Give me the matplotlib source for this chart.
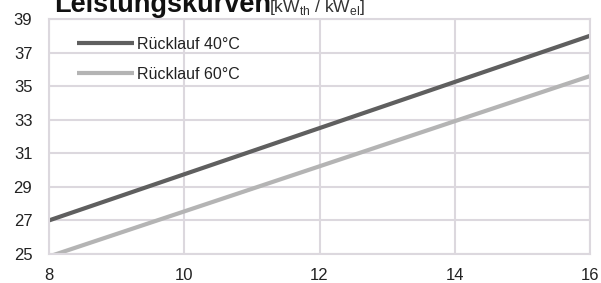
import matplotlib
matplotlib.use("Agg")
import matplotlib.pyplot as plt

x_vals = [8, 16]
series_40 = [27.0, 38.0]
series_60 = [24.85, 35.6]
labels = ["Rücklauf 40°C", "Rücklauf 60°C"]
xticks = [8, 10, 12, 14, 16]
yticks = [25, 27, 29, 31, 33, 35, 37, 39]

plt.rcParams['font.family'] = ['Liberation Sans', 'DejaVu Sans']
plt.rcParams['mathtext.fontset'] = 'custom'
plt.rcParams['mathtext.rm'] = 'Liberation Sans'

fig = plt.figure(figsize=(6.01, 2.83), dpi=100)
ax = fig.add_axes([49/601, 1 - 254/283, 541/601, 235/283])

grid_c = '#dcd8de'
ax.plot(x_vals, series_40, color='#5f5f5f', lw=3, label=labels[0], solid_capstyle='butt')
ax.plot(x_vals, series_60, color='#b4b4b4', lw=3, label=labels[1], solid_capstyle='butt')

ax.set_xlim(8, 16)
ax.set_ylim(25, 39)
ax.set_xticks(xticks)
ax.set_yticks(yticks)
ax.grid(True, color=grid_c, lw=1.5)
ax.set_axisbelow(True)
for s in ax.spines.values():
    s.set_color(grid_c)
    s.set_linewidth(1.5)
ax.tick_params(length=0, labelsize=12, colors='#222222')
ax.tick_params(axis='y', pad=12)
ax.tick_params(axis='x', pad=10)

leg = ax.legend(loc='upper left', frameon=False, fontsize=11.5, handlelength=3.6,
                handletextpad=0.15, labelspacing=0.95, bbox_to_anchor=(0.025, 0.985))
for t in leg.get_texts():
    t.set_color('#222222')

fig.text(54/601, 1 - 12/283, "Leistungskurven", fontsize=19.5, fontweight='bold', color='#111111', va='baseline')
fig.text(269/601, 1 - 12/283, r"[kW$_{\mathrm{th}}$ / kW$_{\mathrm{el}}$]", fontsize=12.5, color='#333333', va='baseline')

fig.savefig("out.png", dpi=100)
